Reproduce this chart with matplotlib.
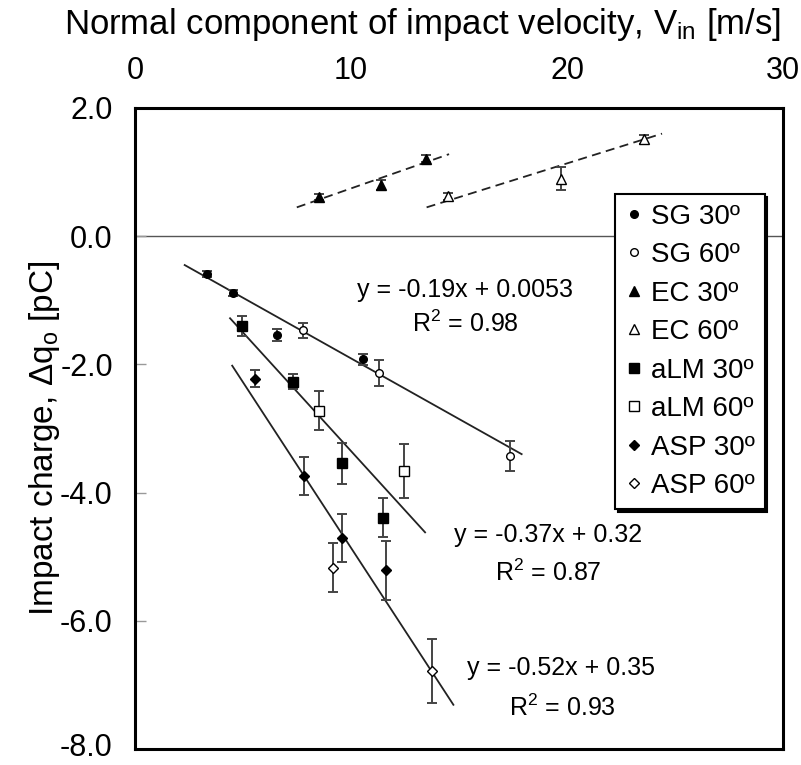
import numpy as np
import matplotlib
matplotlib.use("Agg")
import matplotlib.pyplot as plt
from matplotlib.transforms import ScaledTranslation

plt.rcParams["font.family"] = ["Liberation Sans", "DejaVu Sans"]
plt.rcParams["mathtext.fontset"] = "custom"
plt.rcParams["mathtext.rm"] = "Liberation Sans"
plt.rcParams["mathtext.it"] = "Liberation Sans:italic"

# data (x = V_in [m/s], y = charge [pC], e = error bar half-length)
sg30_x = [3.35, 4.52, 6.56, 10.57]
sg30_y = [-0.59, -0.89, -1.54, -1.92]
sg30_e = [0.05, 0.05, 0.10, 0.09]

sg60_x = [7.76, 11.31, 17.36]
sg60_y = [-1.47, -2.13, -3.43]
sg60_e = [0.12, 0.20, 0.23]

ec30_x = [8.52, 11.39, 13.46]
ec30_y = [0.61, 0.80, 1.21]
ec30_e = [0.05, 0.08, 0.06]

ec60_x = [14.51, 19.70, 23.58]
ec60_y = [0.62, 0.90, 1.51]
ec60_e = [0.05, 0.18, 0.07]

alm30_x = [4.94, 7.33, 9.60, 11.47]
alm30_y = [-1.40, -2.27, -3.54, -4.39]
alm30_e = [0.16, 0.12, 0.32, 0.31]

alm60_x = [8.53, 12.45]
alm60_y = [-2.72, -3.66]
alm60_e = [0.30, 0.42]

asp30_x = [5.56, 7.82, 9.60, 11.60]
asp30_y = [-2.22, -3.74, -4.71, -5.21]
asp30_e = [0.14, 0.30, 0.38, 0.46]

asp60_x = [9.18, 13.73]
asp60_y = [-5.17, -6.78]
asp60_e = [0.38, 0.50]

# trend lines (end points)
fit_sg_x, fit_sg_y = [2.3, 17.9], [-0.45, -3.40]
fit_alm_x, fit_alm_y = [4.4, 13.43], [-1.28, -4.62]
fit_asp_x, fit_asp_y = [4.5, 14.74], [-2.02, -7.31]
fit_ec30_x, fit_ec30_y = [7.49, 14.54], [0.45, 1.28]
fit_ec60_x, fit_ec60_y = [13.5, 24.4], [0.45, 1.60]

fig = plt.figure(figsize=(8.01, 7.65), dpi=100)
ax = fig.add_axes([135 / 801, 1 - 749 / 765, 648 / 801, 641 / 765])

ax.axhline(0, color="#555555", lw=1.0, zorder=1)

for fx, fy in [(fit_sg_x, fit_sg_y), (fit_alm_x, fit_alm_y), (fit_asp_x, fit_asp_y)]:
    ax.plot(fx, fy, color="#222222", lw=1.3, zorder=2)
for fx, fy in [(fit_ec30_x, fit_ec30_y), (fit_ec60_x, fit_ec60_y)]:
    ax.plot(fx, fy, color="#222222", lw=1.3, ls=(0, (5, 3)), zorder=2)

series = [
    (sg30_x, sg30_y, sg30_e, "o", "black", 5.5, "SG 30º"),
    (sg60_x, sg60_y, sg60_e, "o", "white", 5.5, "SG 60º"),
    (ec30_x, ec30_y, ec30_e, "^", "black", 6.5, "EC 30º"),
    (ec60_x, ec60_y, ec60_e, "^", "white", 6.5, "EC 60º"),
    (alm30_x, alm30_y, alm30_e, "s", "black", 6.5, "aLM 30º"),
    (alm60_x, alm60_y, alm60_e, "s", "white", 6.5, "aLM 60º"),
    (asp30_x, asp30_y, asp30_e, "D", "black", 5.0, "ASP 30º"),
    (asp60_x, asp60_y, asp60_e, "D", "white", 5.0, "ASP 60º"),
]

handles = []
for x, y, e, m, fc, ms, lab in series:
    ax.errorbar(x, y, yerr=e, fmt="none", ecolor="#444444", elinewidth=1.4,
                capsize=3.5, capthick=1.4, zorder=3)
    h, = ax.plot(x, y, ls="none", marker=m, ms=ms, mfc=fc, mec="black",
                 mew=1.0, label=lab, zorder=4)
    handles.append(h)

fs_eq = 18
ax.text(15.28, -0.84, "y = -0.19x + 0.0053", ha="center", va="center", fontsize=fs_eq)
ax.text(15.28, -1.37, r"R$^2$ = 0.98", ha="center", va="center", fontsize=fs_eq)
ax.text(19.12, -4.66, "y = -0.37x + 0.32", ha="center", va="center", fontsize=fs_eq)
ax.text(19.12, -5.25, r"R$^2$ = 0.87", ha="center", va="center", fontsize=fs_eq)
ax.text(19.72, -6.74, "y = -0.52x + 0.35", ha="center", va="center", fontsize=fs_eq)
ax.text(19.81, -7.36, r"R$^2$ = 0.93", ha="center", va="center", fontsize=fs_eq)

ax.set_xlim(0, 30)
ax.set_ylim(-8, 2)
ax.xaxis.tick_top()
ax.xaxis.set_label_position("top")
ax.set_xticks([0, 10, 20, 30])
ax.tick_params(axis="x", length=0, pad=16, labelsize=22)
ax.set_yticks([-8, -6, -4, -2, 0, 2])
ax.set_yticklabels(["-8.0", "-6.0", "-4.0", "-2.0", "0.0", "2.0"])
ax.tick_params(axis="y", direction="in", length=8, color="#999999", width=1,
               labelsize=22, pad=16)
# nudge the bottom label up a little so it stays inside the canvas
lab0 = ax.get_yticklabels()[0]
lab0.set_transform(lab0.get_transform() + ScaledTranslation(0, 0.05, fig.dpi_scale_trans))

ax.set_xlabel(r"Normal component of impact velocity, V$_{\mathrm{in}}$ [m/s]",
              fontsize=25)
ax.xaxis.set_label_coords(0.444, 1.115)
ax.set_ylabel(r"Impact charge, $\Delta$q$_{\mathrm{o}}$ [pC]", fontsize=24)
ax.yaxis.set_label_coords(-0.113, 0.485)
for s in ax.spines.values():
    s.set_linewidth(2.2)

leg = ax.legend(handles=handles, loc="upper left",
                bbox_to_anchor=(615 / 801, 1 - 194 / 765),
                bbox_transform=fig.transFigure, fontsize=20, frameon=True,
                fancybox=False, shadow={"color": "black", "alpha": 1},
                handlelength=0.7, handletextpad=0.25, labelspacing=0.45,
                borderpad=0.35, borderaxespad=0)
leg.get_frame().set_edgecolor("black")
leg.get_frame().set_linewidth(1.5)

fig.savefig("out.png", dpi=100)
